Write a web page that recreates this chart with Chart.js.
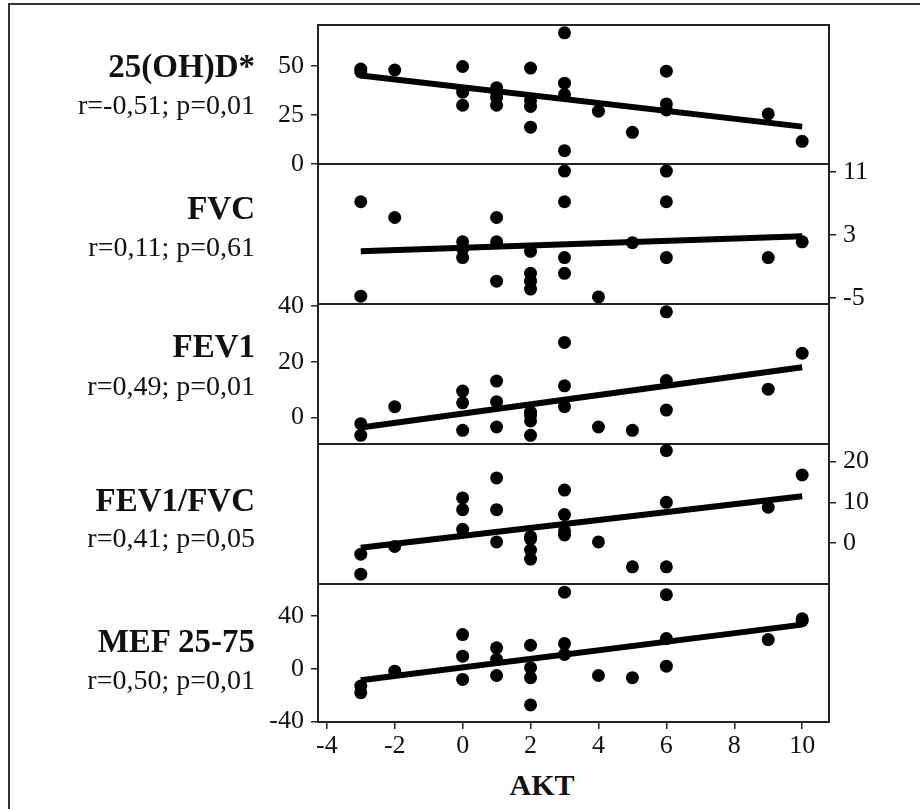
<!DOCTYPE html>
<html>
<head>
<meta charset="utf-8">
<script src="https://cdn.jsdelivr.net/npm/chart.js@4.4.1/dist/chart.umd.min.js"></script>
<style>
  html, body { margin: 0; padding: 0; background: #fff; overflow: hidden; }
  #page { position: relative; width: 920px; height: 809px; overflow: hidden; font-family: "Liberation Serif", "Times New Roman", serif; color: #111; }
  #frame { position: absolute; left: 8px; top: 3px; width: 1000px; height: 1000px; border: 2px solid #333; }
  #page canvas { position: absolute; left: 0; top: 0; }
  .lbl { position: absolute; right: 665px; text-align: right; white-space: nowrap; line-height: 1; transform: translateY(-50%); }
  .lbl.name { font-weight: bold; font-size: 33px; }
  .lbl.stat { font-size: 28px; }
  #xtitle { position: absolute; left: 542px; top: 785px; transform: translate(-50%, -50%); font-weight: bold; font-size: 30px; line-height: 1; }
</style>
</head>
<body>
<div id="page">
  <div id="frame"></div>
  <div id="xtitle">AKT</div>
</div>
<script>
/* ===== data ===== */
const aktTicks = [-4, -2, 0, 2, 4, 6, 8, 10];
const fitAkt = [-3, 10];

// 25(OH)D*
const vitdAkt = [-3, -3, -2, 0, 0, 0, 1, 1, 1, 1, 2, 2, 2, 2, 3, 3, 3, 3, 4, 5, 6, 6, 6, 9, 10];
const vitdVal = [48.5, 47, 48, 49.8, 36.7, 30, 39, 36.7, 34, 30, 49, 32.4, 29.4, 18.8, 67, 41.3, 35.5, 6.8, 27, 16.2, 47.4, 30.7, 27.6, 25.6, 11.6];
const vitdFit = [45.2, 19.1];
const vitdTicks = [0, 25, 50];

// FVC
const fvcAkt = [-3, -3, -2, 0, 0, 0, 1, 1, 1, 2, 2, 2, 2, 3, 3, 3, 3, 4, 5, 6, 6, 6, 9, 10];
const fvcVal = [7.2, -4.8, 5.2, 2.1, 1.2, 0.1, 5.2, 2.1, -2.9, 0.9, -1.9, -2.9, -3.9, 11.1, 7.2, 0.1, -1.9, -4.9, 2.0, 11.1, 7.2, 0.1, 0.1, 2.1];
const fvcFit = [0.9, 2.8];
const fvcTicks = [-5, 3, 11];

// FEV1
const fev1Akt = [-3, -3, -2, 0, 0, 0, 1, 1, 1, 2, 2, 2, 2, 3, 3, 3, 4, 5, 6, 6, 6, 9, 10];
const fev1Val = [-2.2, -6.4, 3.9, 9.5, 5.3, -4.6, 13.1, 5.7, -3.4, 2.0, 0.8, -1.2, -6.4, 27, 11.4, 3.9, -3.4, -4.6, 38, 13.3, 2.7, 10.2, 23.1];
const fev1Fit = [-3.6, 18.1];
const fev1Ticks = [0, 20, 40];

// FEV1/FVC
const ratioAkt = [-3, -3, -2, 0, 0, 0, 1, 1, 1, 2, 2, 2, 2, 3, 3, 3, 3, 4, 5, 6, 6, 6, 9, 10];
const ratioVal = [-2.7, -7.6, -0.8, 11.1, 8.2, 3.4, 16, 8.2, 0.3, 1.6, 1, -1.7, -3.9, 13, 7, 3, 2, 0.3, -5.8, 22.7, 10, -5.8, 8.8, 16.7];
const ratioFit = [-1.1, 11.5];
const ratioTicks = [0, 10, 20];

// MEF 25-75
const mefAkt = [-3, -3, -2, 0, 0, 0, 1, 1, 1, 2, 2, 2, 2, 3, 3, 3, 4, 5, 6, 6, 6, 9, 10, 10];
const mefVal = [-13.1, -18.2, -1.8, 26, 9.6, -8.1, 15.9, 7.1, -5.1, 17.9, 0.8, -6.8, -27.5, 58.3, 19.2, 10.9, -5.1, -6.8, 56.3, 23, 2, 22.2, 36.6, 38];
const mefFit = [-8.8, 33.6];
const mefTicks = [-40, 0, 40];

const panels = [
    { name: '25(OH)D*', stat: 'r=-0,51; p=0,01', x: vitdAkt, y: vitdVal, fit: vitdFit, ticks: vitdTicks, min: 0, max: 71, side: 'left' },
    { name: 'FVC', stat: 'r=0,11; p=0,61', x: fvcAkt, y: fvcVal, fit: fvcFit, ticks: fvcTicks, min: -5.8, max: 12, side: 'right' },
    { name: 'FEV1', stat: 'r=0,49; p=0,01', x: fev1Akt, y: fev1Val, fit: fev1Fit, ticks: fev1Ticks, min: -9.5, max: 40.8, side: 'left' },
    { name: 'FEV1/FVC', stat: 'r=0,41; p=0,05', x: ratioAkt, y: ratioVal, fit: ratioFit, ticks: ratioTicks, min: -10, max: 24.3, side: 'right' },
    { name: 'MEF 25-75', stat: 'r=0,50; p=0,01', x: mefAkt, y: mefVal, fit: mefFit, ticks: mefTicks, min: -40.5, max: 64.5, side: 'left' }
];

/* ===== layout ===== */
const W = 920, H = 809;
const PLOT_LEFT = 318, PLOT_RIGHT = 829;
const panelTop = [25, 164, 304, 444, 584];
const panelBottom = [164, 304, 444, 584, 722];
const nameY = [66, 208, 346, 500, 641];
const statY = [105, 247, 386, 538, 680];
const AXIS_W = 60, X_AXIS_H = 50;
const FONT = "'Liberation Serif', 'Times New Roman', serif";
const INK = '#111';

Chart.defaults.font.family = FONT;

// frame around each panel
const framePlugin = {
    id: 'panelFrame',
    beforeDatasetsDraw(chart) {
        const a = chart.chartArea, ctx = chart.ctx;
        ctx.save();
        ctx.strokeStyle = '#222';
        ctx.lineWidth = 2;
        ctx.strokeRect(a.left, a.top, a.right - a.left, a.bottom - a.top);
        ctx.restore();
    }
};

function addLabel(cls, text, y) {
    const d = document.createElement('div');
    d.className = 'lbl ' + cls;
    d.textContent = text;
    d.style.top = y + 'px';
    document.getElementById('page').appendChild(d);
}

function initPanel(p, i) {
    const page = document.getElementById('page');
    const canvas = document.createElement('canvas');
    canvas.width = W;
    canvas.height = H;
    page.appendChild(canvas);

    const last = i === panels.length - 1;
    const pad = {
        top: panelTop[i],
        bottom: last ? H - panelBottom[i] - X_AXIS_H : H - panelBottom[i],
        left: p.side === 'left' ? PLOT_LEFT - AXIS_W : PLOT_LEFT,
        right: p.side === 'right' ? W - PLOT_RIGHT - AXIS_W : W - PLOT_RIGHT
    };

    const tickGrid = { drawOnChartArea: false, tickLength: 7, color: '#222', lineWidth: 1.5 };

    new Chart(canvas, {
        type: 'scatter',
        data: {
            datasets: [
                {
                    data: p.x.map((v, k) => ({ x: v, y: p.y[k] })),
                    pointRadius: 6.5,
                    pointBackgroundColor: '#000',
                    pointBorderWidth: 0,
                    clip: false
                },
                {
                    data: fitAkt.map((v, k) => ({ x: v, y: p.fit[k] })),
                    showLine: true,
                    pointRadius: 0,
                    borderColor: '#000',
                    borderWidth: 6,
                    clip: false
                }
            ]
        },
        options: {
            responsive: false,
            animation: false,
            devicePixelRatio: 1,
            layout: { padding: pad },
            plugins: { legend: { display: false }, tooltip: { enabled: false } },
            scales: {
                x: {
                    type: 'linear',
                    min: -4.26,
                    max: 10.79,
                    display: last,
                    afterBuildTicks: s => { s.ticks = aktTicks.map(v => ({ value: v })); },
                    afterFit: s => { if (last) s.height = X_AXIS_H; },
                    grid: tickGrid,
                    border: { display: false },
                    ticks: { font: { size: 26 }, color: INK, padding: 2, maxRotation: 0, autoSkip: false }
                },
                y: {
                    type: 'linear',
                    position: p.side,
                    min: p.min,
                    max: p.max,
                    afterBuildTicks: s => { s.ticks = p.ticks.map(v => ({ value: v })); },
                    afterFit: s => { s.width = AXIS_W; },
                    grid: tickGrid,
                    border: { display: false },
                    ticks: { font: { size: 26 }, color: INK, padding: 7, autoSkip: false }
                }
            }
        },
        plugins: [framePlugin]
    });

    addLabel('name', p.name, nameY[i]);
    addLabel('stat', p.stat, statY[i]);
}

panels.forEach(initPanel);
</script>
</body>
</html>
